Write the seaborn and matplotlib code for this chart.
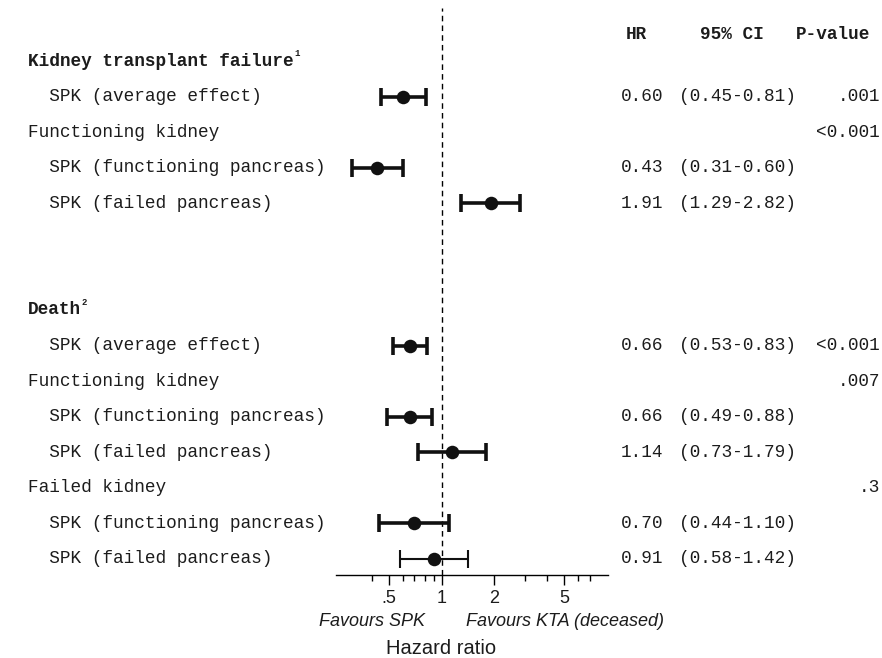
import numpy as np
import pandas as pd
import matplotlib
matplotlib.use("Agg")
import matplotlib.pyplot as plt
import matplotlib.transforms as mtransforms
import seaborn as sns

# Row labels (top to bottom); "" = blank spacer row
row_labels = [
    "Kidney transplant failure",
    "  SPK (average effect)",
    "Functioning kidney",
    "  SPK (functioning pancreas)",
    "  SPK (failed pancreas)",
    "",
    "",
    "Death",
    "  SPK (average effect)",
    "Functioning kidney",
    "  SPK (functioning pancreas)",
    "  SPK (failed pancreas)",
    "Failed kidney",
    "  SPK (functioning pancreas)",
    "  SPK (failed pancreas)",
]
title_rows = ["Kidney transplant failure", "Death"]
title_notes = ["1", "2"]

# estimates (None = no estimate on that row)
hr = [None, 0.60, None, 0.43, 1.91, None, None,
      None, 0.66, None, 0.66, 1.14, None, 0.70, 0.91]
ci_low = [None, 0.45, None, 0.31, 1.29, None, None,
          None, 0.53, None, 0.49, 0.73, None, 0.44, 0.58]
ci_high = [None, 0.81, None, 0.60, 2.82, None, None,
           None, 0.83, None, 0.88, 1.79, None, 1.10, 1.42]
p_values = ["", ".001", "<0.001", "", "", "", "",
            "", "<0.001", ".007", "", "", ".3", "", ""]

major_ticks = [0.5, 1, 2, 5]
major_labels = [".5", "1", "2", "5"]
minor_ticks = [0.4, 0.6, 0.7, 0.8, 0.9, 3, 4, 6, 7]

df = pd.DataFrame({"label": row_labels, "hr": hr, "lo": ci_low,
                   "hi": ci_high, "p": p_values})
df["row"] = np.arange(len(df))
est = df.dropna(subset=["hr"]).copy()

sns.set_theme(style="white")
plt.rcParams["font.family"] = ["Liberation Sans", "DejaVu Sans"]
mono = ["Liberation Mono", "DejaVu Sans Mono"]
fs = 12.8
tcol = "#1c1c1c"

fig = plt.figure(figsize=(8.82, 6.58), dpi=100)
ax = fig.add_axes([336 / 882, 1 - 575 / 658, (608 - 336) / 882, (575 - 8) / 658])
ax.set_xscale("log")
ax.set_xlim(0.25, 8.9)
ax.set_ylim(14.46, -1.5)

# reference line at HR = 1
ax.axvline(1, color="black", lw=1, ls=(0, (4, 3)), zorder=1)

# confidence intervals; the last row is drawn with a thinner line
for i, r in est.iterrows():
    lw = 1.5 if i == est.index[-1] else 2.6
    ax.errorbar(r["hr"], r["row"], xerr=[[r["hr"] - r["lo"]], [r["hi"] - r["hr"]]],
                fmt="none", ecolor="#111111", elinewidth=lw, capsize=6.8,
                capthick=lw, zorder=2)
sns.scatterplot(data=est, x="hr", y="row", ax=ax, color="#111111", s=95,
                edgecolor="#111111", linewidth=0, zorder=3, legend=False)

# axis styling
for side in ["top", "right", "left"]:
    ax.spines[side].set_visible(False)
ax.spines["bottom"].set_color("black")
ax.spines["bottom"].set_linewidth(1)
ax.set_yticks([])
ax.set_xticks(major_ticks)
ax.set_xticklabels(major_labels, fontsize=13)
ax.set_xticks(minor_ticks, minor=True)
ax.xaxis.set_minor_formatter(matplotlib.ticker.NullFormatter())
ax.tick_params(axis="x", which="major", direction="out", length=7, width=1,
               color="black", pad=4, bottom=True, labelcolor=tcol)
ax.tick_params(axis="x", which="minor", direction="out", length=4, width=1,
               color="black", bottom=True)
ax.set_xlabel("")
ax.set_ylabel("")
ax.patch.set_alpha(0)

# text columns: x in figure pixels, y in data rows
tr = mtransforms.blended_transform_factory(
    mtransforms.Affine2D().scale(1 / 882, 1) + fig.transFigure, ax.transData)

for i, r in df.iterrows():
    lab = r["label"]
    if lab == "":
        continue
    if lab in title_rows:
        t = ax.text(28, r["row"], lab, transform=tr, family=mono, fontsize=fs,
                    fontweight="bold", va="center", ha="left", clip_on=False,
                    color=tcol)
        ax.annotate(title_notes[title_rows.index(lab)], xy=(1, 0.95), xycoords=t,
                    xytext=(0.5, 0), textcoords="offset points", family=mono,
                    fontsize=6.5, fontweight="bold", va="center", ha="left",
                    color=tcol)
    else:
        ax.text(28, r["row"], lab, transform=tr, family=mono, fontsize=fs,
                va="center", ha="left", clip_on=False, color=tcol)
    if pd.notna(r["hr"]):
        ax.text(621, r["row"], f"{r['hr']:.2f}", transform=tr, family=mono,
                fontsize=fs, va="center", ha="left", clip_on=False, color=tcol)
        ax.text(679, r["row"], f"({r['lo']:.2f}-{r['hi']:.2f})", transform=tr,
                family=mono, fontsize=fs, va="center", ha="left", clip_on=False,
                color=tcol)
    if r["p"]:
        ax.text(880, r["row"], r["p"], transform=tr, family=mono, fontsize=fs,
                va="center", ha="right", clip_on=False, color=tcol)

# column headers
header_row = -0.75
ax.text(636, header_row, "HR", transform=tr, family=mono, fontsize=fs,
        fontweight="bold", va="center", ha="center", clip_on=False, color=tcol)
ax.text(732, header_row, "95% CI", transform=tr, family=mono, fontsize=fs,
        fontweight="bold", va="center", ha="center", clip_on=False, color=tcol)
ax.text(833, header_row, "P-value", transform=tr, family=mono, fontsize=fs,
        fontweight="bold", va="center", ha="center", clip_on=False, color=tcol)

# favours labels and axis title
fig.text(425 / 882, 1 - 621 / 658, "Favours SPK", fontsize=13, style="italic",
         ha="right", va="center", color=tcol)
fig.text(466 / 882, 1 - 621 / 658, "Favours KTA (deceased)", fontsize=13,
         style="italic", ha="left", va="center", color=tcol)
fig.text(441 / 882, 1 - 648 / 658, "Hazard ratio", fontsize=14.5,
         ha="center", va="center", color=tcol)

fig.savefig("out.png", dpi=100)
